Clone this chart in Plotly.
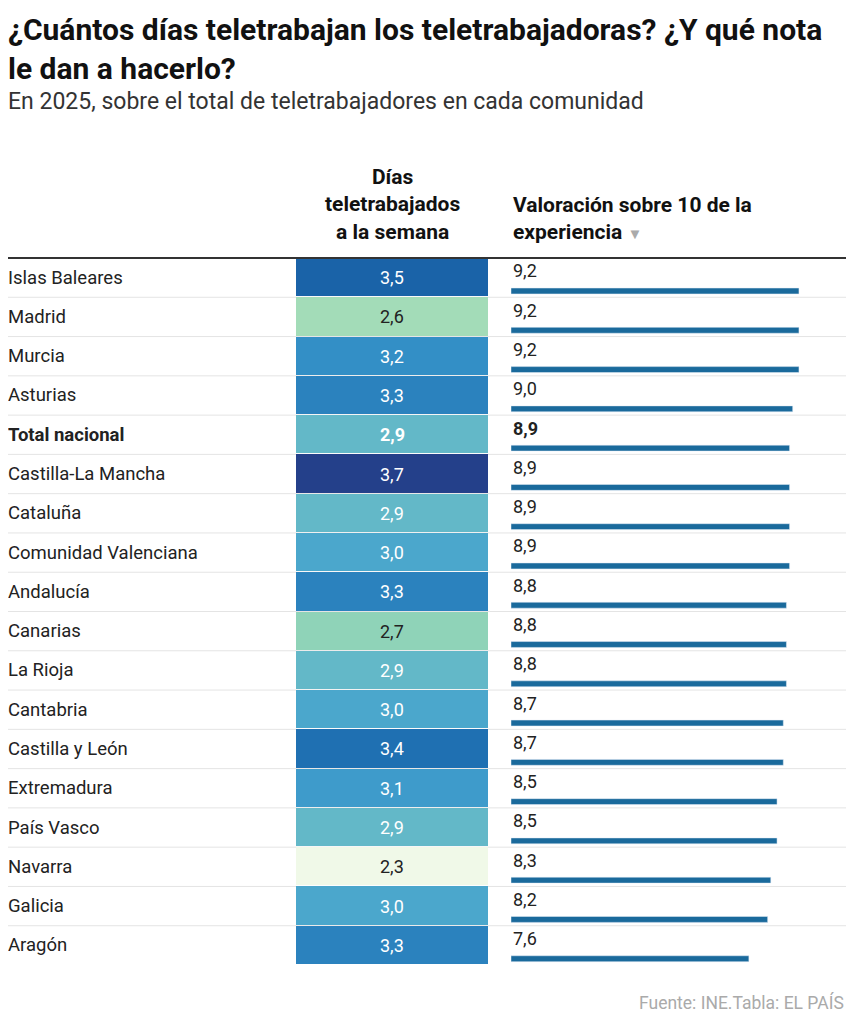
import plotly.graph_objects as go

regions = ["Islas Baleares","Madrid","Murcia","Asturias","Total nacional","Castilla-La Mancha","Cataluña",
           "Comunidad Valenciana","Andalucía","Canarias","La Rioja","Cantabria","Castilla y León","Extremadura",
           "País Vasco","Navarra","Galicia","Aragón"]
dias = [3.5,2.6,3.2,3.3,2.9,3.7,2.9,3.0,3.3,2.7,2.9,3.0,3.4,3.1,2.9,2.3,3.0,3.3]
nota = [9.2,9.2,9.2,9.0,8.9,8.9,8.9,8.9,8.8,8.8,8.8,8.7,8.7,8.5,8.5,8.3,8.2,7.6]

W, H = 840, 1008
OX, OY = 10, 8
FONT = "Roboto"
def px(x): return (x - OX) / W
def py(y): return 1 - (y - OY) / H

n = len(regions)
ys = list(range(n))
fmt = lambda v: f"{v:.1f}".replace(".", ",")

cs = [[0.0, "#f0f9e8"], [0.214, "#a3dcb8"], [0.286, "#8fd3b8"], [0.43, "#63b8c8"], [0.5, "#4ba7cc"],
      [0.57, "#3e9bcb"], [0.64, "#3390c6"], [0.714, "#2b82be"], [0.786, "#1f70b2"], [0.857, "#1a63a8"],
      [1.0, "#24408a"]]

fig = go.Figure()
fig.add_trace(go.Heatmap(z=[[v] for v in dias], x=[0], y=ys, colorscale=cs, zmin=2.3, zmax=3.7,
                         showscale=False, ygap=1, hoverinfo="skip", xaxis="x", yaxis="y"))
fig.add_trace(go.Bar(x=nota, y=[i + 0.34 for i in ys], orientation="h", width=0.15,
                     marker_color="#1a6a9c", hoverinfo="skip", xaxis="x2", yaxis="y"))

ydom = [py(965), py(258)]
fig.update_layout(
    width=W, height=H, margin=dict(l=0, r=0, t=0, b=0), paper_bgcolor="white", plot_bgcolor="rgba(0,0,0,0)",
    showlegend=False, font=dict(family=FONT, color="#222"),
    xaxis=dict(domain=[px(298), px(490)], range=[-0.5, 0.5], visible=False),
    xaxis2=dict(domain=[px(513), 1.0], range=[0, (W + OX - 513) / 31.3], visible=False, anchor="y"),
    yaxis=dict(domain=ydom, range=[n - 0.5, -0.5], visible=False),
)

ann = []
shapes = []
for i, (r, d, v) in enumerate(zip(regions, dias, nota)):
    bold = r == "Total nacional"
    t = f"<b>{r}</b>" if bold else r
    ann.append(dict(x=px(8), y=i, xref="paper", yref="y", text=t, showarrow=False, xanchor="left",
                    font=dict(size=18.5, color="#222")))
    ann.append(dict(x=0, y=i, xref="x", yref="y", text=f"<b>{fmt(d)}</b>" if bold else fmt(d), showarrow=False,
                    font=dict(size=18, color="#222" if d <= 2.7 else "white")))
    ann.append(dict(x=0, y=i - 0.17, xref="x2", yref="y", text=f"<b>{fmt(v)}</b>" if bold else fmt(v),
                    showarrow=False, xanchor="left", font=dict(size=18, color="#222")))
    if i > 0:
        shapes.append(dict(type="line", xref="paper", yref="y", x0=px(8), x1=px(848), y0=i - 0.5, y1=i - 0.5,
                           line=dict(color="#e4e4e4", width=1), layer="below"))
shapes.append(dict(type="line", xref="paper", yref="paper", x0=px(8), x1=px(848), y0=py(258), y1=py(258),
                   line=dict(color="#333", width=2)))

ann += [
    dict(x=px(8), y=py(10), xref="paper", yref="paper", xanchor="left", yanchor="top", align="left",
         text="<b>¿Cuántos días teletrabajan los teletrabajadoras? ¿Y qué nota<br>le dan a hacerlo?</b>",
         showarrow=False, font=dict(size=30, color="#111")),
    dict(x=px(8), y=py(101), xref="paper", yref="paper", xanchor="left", yanchor="middle",
         text="En 2025, sobre el total de teletrabajadores en cada comunidad", showarrow=False,
         font=dict(size=23, color="#333")),
    dict(x=px(394), y=py(246), xref="paper", yref="paper", xanchor="center", yanchor="bottom",
         text="<b>Días<br>teletrabajados<br>a la semana</b>", showarrow=False,
         font=dict(size=21, color="#111")),
    dict(x=px(513), y=py(246), xref="paper", yref="paper", xanchor="left", yanchor="bottom", align="left",
         text="<b>Valoración sobre 10 de la<br>experiencia</b> <span style='color:#aaa;font-size:15px'>▼</span>",
         showarrow=False, font=dict(size=21, color="#111")),
    dict(x=px(848), y=py(1002), xref="paper", yref="paper", xanchor="right", yanchor="middle",
         text="Fuente: INE.Tabla: EL PAÍS", showarrow=False, font=dict(size=17.5, color="#aaa")),
]
fig.update_layout(annotations=ann, shapes=shapes)
fig.write_html("out.html")
